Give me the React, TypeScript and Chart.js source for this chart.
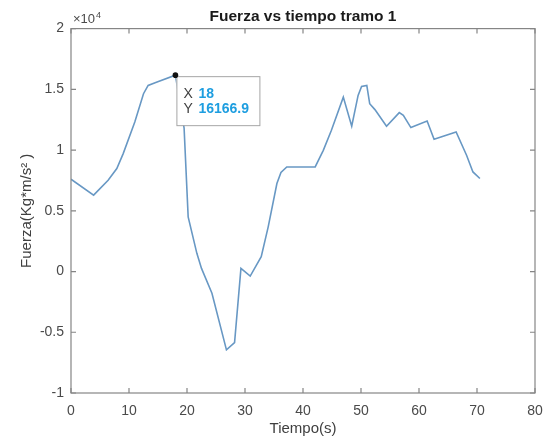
import React, { useEffect, useRef } from "react";
import { Chart, registerables } from "chart.js";

Chart.register(...registerables);

const timeValues = [
  0, 3.9, 6.4, 7.9, 9.0, 11.0, 12.5, 13.3, 14.5, 18, 19.5, 20.2, 21.7, 22.5, 24.3,
  26.8, 28.2, 29.3, 30.9, 32.8, 34.0, 35.5, 36.2, 37.2, 42.1, 43.5, 44.9, 46.95,
  48.4, 49.5, 50.1, 51.0, 51.5, 52.4, 54.4, 56.6, 57.3, 58.6, 61.4, 62.6, 66.4,
  68.2, 69.3, 70.5,
];
const forceValues = [
  7600, 6290, 7520, 8480, 9710, 12310, 14640, 15320, 15550, 16166.9, 11800, 4500,
  1500, 260, -1790, -6450, -5850, 260, -370, 1220, 3680, 7250, 8150, 8610, 8610,
  9980, 11630, 14360, 11960, 14500, 15240, 15320, 13820, 13330, 11960, 13080,
  12860, 11850, 12390, 10890, 11490, 9570, 8200, 7660,
];
const tipX = 18;
const tipY = 16166.9;
const chartTitle = "Fuerza vs tiempo tramo 1";
const xLabel = "Tiempo(s)";
const yLabel = "Fuerza(Kg*m/s² )";
const yExponent = "4";

const FONT = "'Liberation Sans', Arial, Helvetica, sans-serif";
const AXIS_COLOR = "#858585";
const TEXT_COLOR = "#4a4a4a";
const LINE_COLOR = "rgb(104,152,196)";

const matlabPlugin = {
  id: "matlabFrame",
  afterDatasetsDraw(chart: any) {
    const { ctx, chartArea, scales } = chart;
    const { left, right, top, bottom } = chartArea;
    const xs = scales.x;
    const ys = scales.y;
    ctx.save();
    // frame
    ctx.strokeStyle = AXIS_COLOR;
    ctx.lineWidth = 1.2;
    ctx.strokeRect(left, top, right - left, bottom - top);
    // inward ticks on all four sides
    const tl = 5;
    ctx.beginPath();
    xs.ticks.forEach((t: any) => {
      const px = xs.getPixelForValue(t.value);
      ctx.moveTo(px, bottom);
      ctx.lineTo(px, bottom - tl);
      ctx.moveTo(px, top);
      ctx.lineTo(px, top + tl);
    });
    ys.ticks.forEach((t: any) => {
      const py = ys.getPixelForValue(t.value);
      ctx.moveTo(left, py);
      ctx.lineTo(left + tl, py);
      ctx.moveTo(right, py);
      ctx.lineTo(right - tl, py);
    });
    ctx.stroke();

    // x10^4 exponent label
    ctx.fillStyle = TEXT_COLOR;
    ctx.textBaseline = "alphabetic";
    ctx.textAlign = "left";
    ctx.font = `13px ${FONT}`;
    ctx.fillText("×10", left + 2, top - 6);
    const w = ctx.measureText("×10").width;
    ctx.font = `9px ${FONT}`;
    ctx.fillText(yExponent, left + 2 + w + 1, top - 11);

    // data tip
    const dx = xs.getPixelForValue(tipX);
    const dy = ys.getPixelForValue(tipY);
    const bx = dx + 1;
    const by = dy + 1;
    const bw = 83;
    const bh = 49;
    ctx.fillStyle = "#ffffff";
    ctx.fillRect(bx, by, bw, bh);
    ctx.strokeStyle = "#a6a6a6";
    ctx.lineWidth = 1;
    ctx.strokeRect(bx + 0.5, by + 0.5, bw, bh);
    ctx.beginPath();
    ctx.arc(dx, dy, 2.8, 0, Math.PI * 2);
    ctx.fillStyle = "#111111";
    ctx.fill();

    ctx.textBaseline = "middle";
    ctx.font = `14px ${FONT}`;
    ctx.fillStyle = "#404040";
    ctx.fillText("X", bx + 7, by + 18);
    ctx.fillText("Y", bx + 7, by + 33);
    ctx.font = `bold 14px ${FONT}`;
    ctx.fillStyle = "#1e9ee0";
    ctx.fillText(String(tipX), bx + 22, by + 18);
    ctx.fillText(String(tipY), bx + 22, by + 33);
    ctx.restore();
  },
};

export default function App() {
  const canvasRef = useRef<HTMLCanvasElement | null>(null);

  useEffect(() => {
    document.body.style.margin = "0";
    const canvas = canvasRef.current;
    if (!canvas) return;
    const points = timeValues.map((t, i) => ({ x: t, y: forceValues[i] }));
    const chart = new Chart(canvas, {
      type: "line",
      data: {
        datasets: [
          {
            data: points,
            borderColor: LINE_COLOR,
            borderWidth: 1.6,
            pointRadius: 0,
            tension: 0,
            fill: false,
          },
        ],
      },
      options: {
        responsive: false,
        animation: false,
        devicePixelRatio: 1,
        layout: { padding: { left: 0, right: 10, top: 0, bottom: 0 } },
        plugins: {
          legend: { display: false },
          tooltip: { enabled: false },
          title: {
            display: true,
            text: chartTitle,
            fullSize: false,
            color: "#1a1a1a",
            font: { family: FONT, size: 15.5, weight: "bold", lineHeight: 1.2 },
            padding: { top: 7, bottom: 3 },
          },
        },
        scales: {
          x: {
            type: "linear",
            min: 0,
            max: 80,
            grid: { display: false, drawTicks: false },
            border: { display: false },
            ticks: {
              stepSize: 10,
              padding: 10,
              color: TEXT_COLOR,
              font: { family: FONT, size: 14 },
              maxRotation: 0,
            },
            title: {
              display: true,
              text: xLabel,
              color: "#404040",
              font: { family: FONT, size: 15, lineHeight: 1.2 },
              padding: { top: 0, bottom: 0 },
            },
            afterFit: (scale: any) => {
              scale.height = 45;
              scale.paddingLeft = 0;
              scale.paddingRight = 0;
            },
          },
          y: {
            type: "linear",
            min: -10000,
            max: 20000,
            grid: { display: false, drawTicks: false },
            border: { display: false },
            ticks: {
              stepSize: 5000,
              padding: 7,
              color: TEXT_COLOR,
              font: { family: FONT, size: 14 },
              callback: (v: any) => String(Number(v) / 10000),
            },
            title: {
              display: true,
              text: yLabel,
              color: "#404040",
              font: { family: FONT, size: 15, lineHeight: 1.2 },
              padding: { top: 18, bottom: 18 },
            },
            afterFit: (scale: any) => {
              scale.width = 71;
              scale.paddingTop = 0;
              scale.paddingBottom = 0;
            },
          },
        },
      },
      plugins: [matlabPlugin],
    });
    return () => chart.destroy();
  }, []);

  return (
    <div style={{ position: "relative", width: 545, height: 438 }}>
      <canvas
        ref={canvasRef}
        width={545}
        height={438}
        style={{ position: "absolute", left: 0, top: 0, width: 545, height: 438 }}
      />
    </div>
  );
}
